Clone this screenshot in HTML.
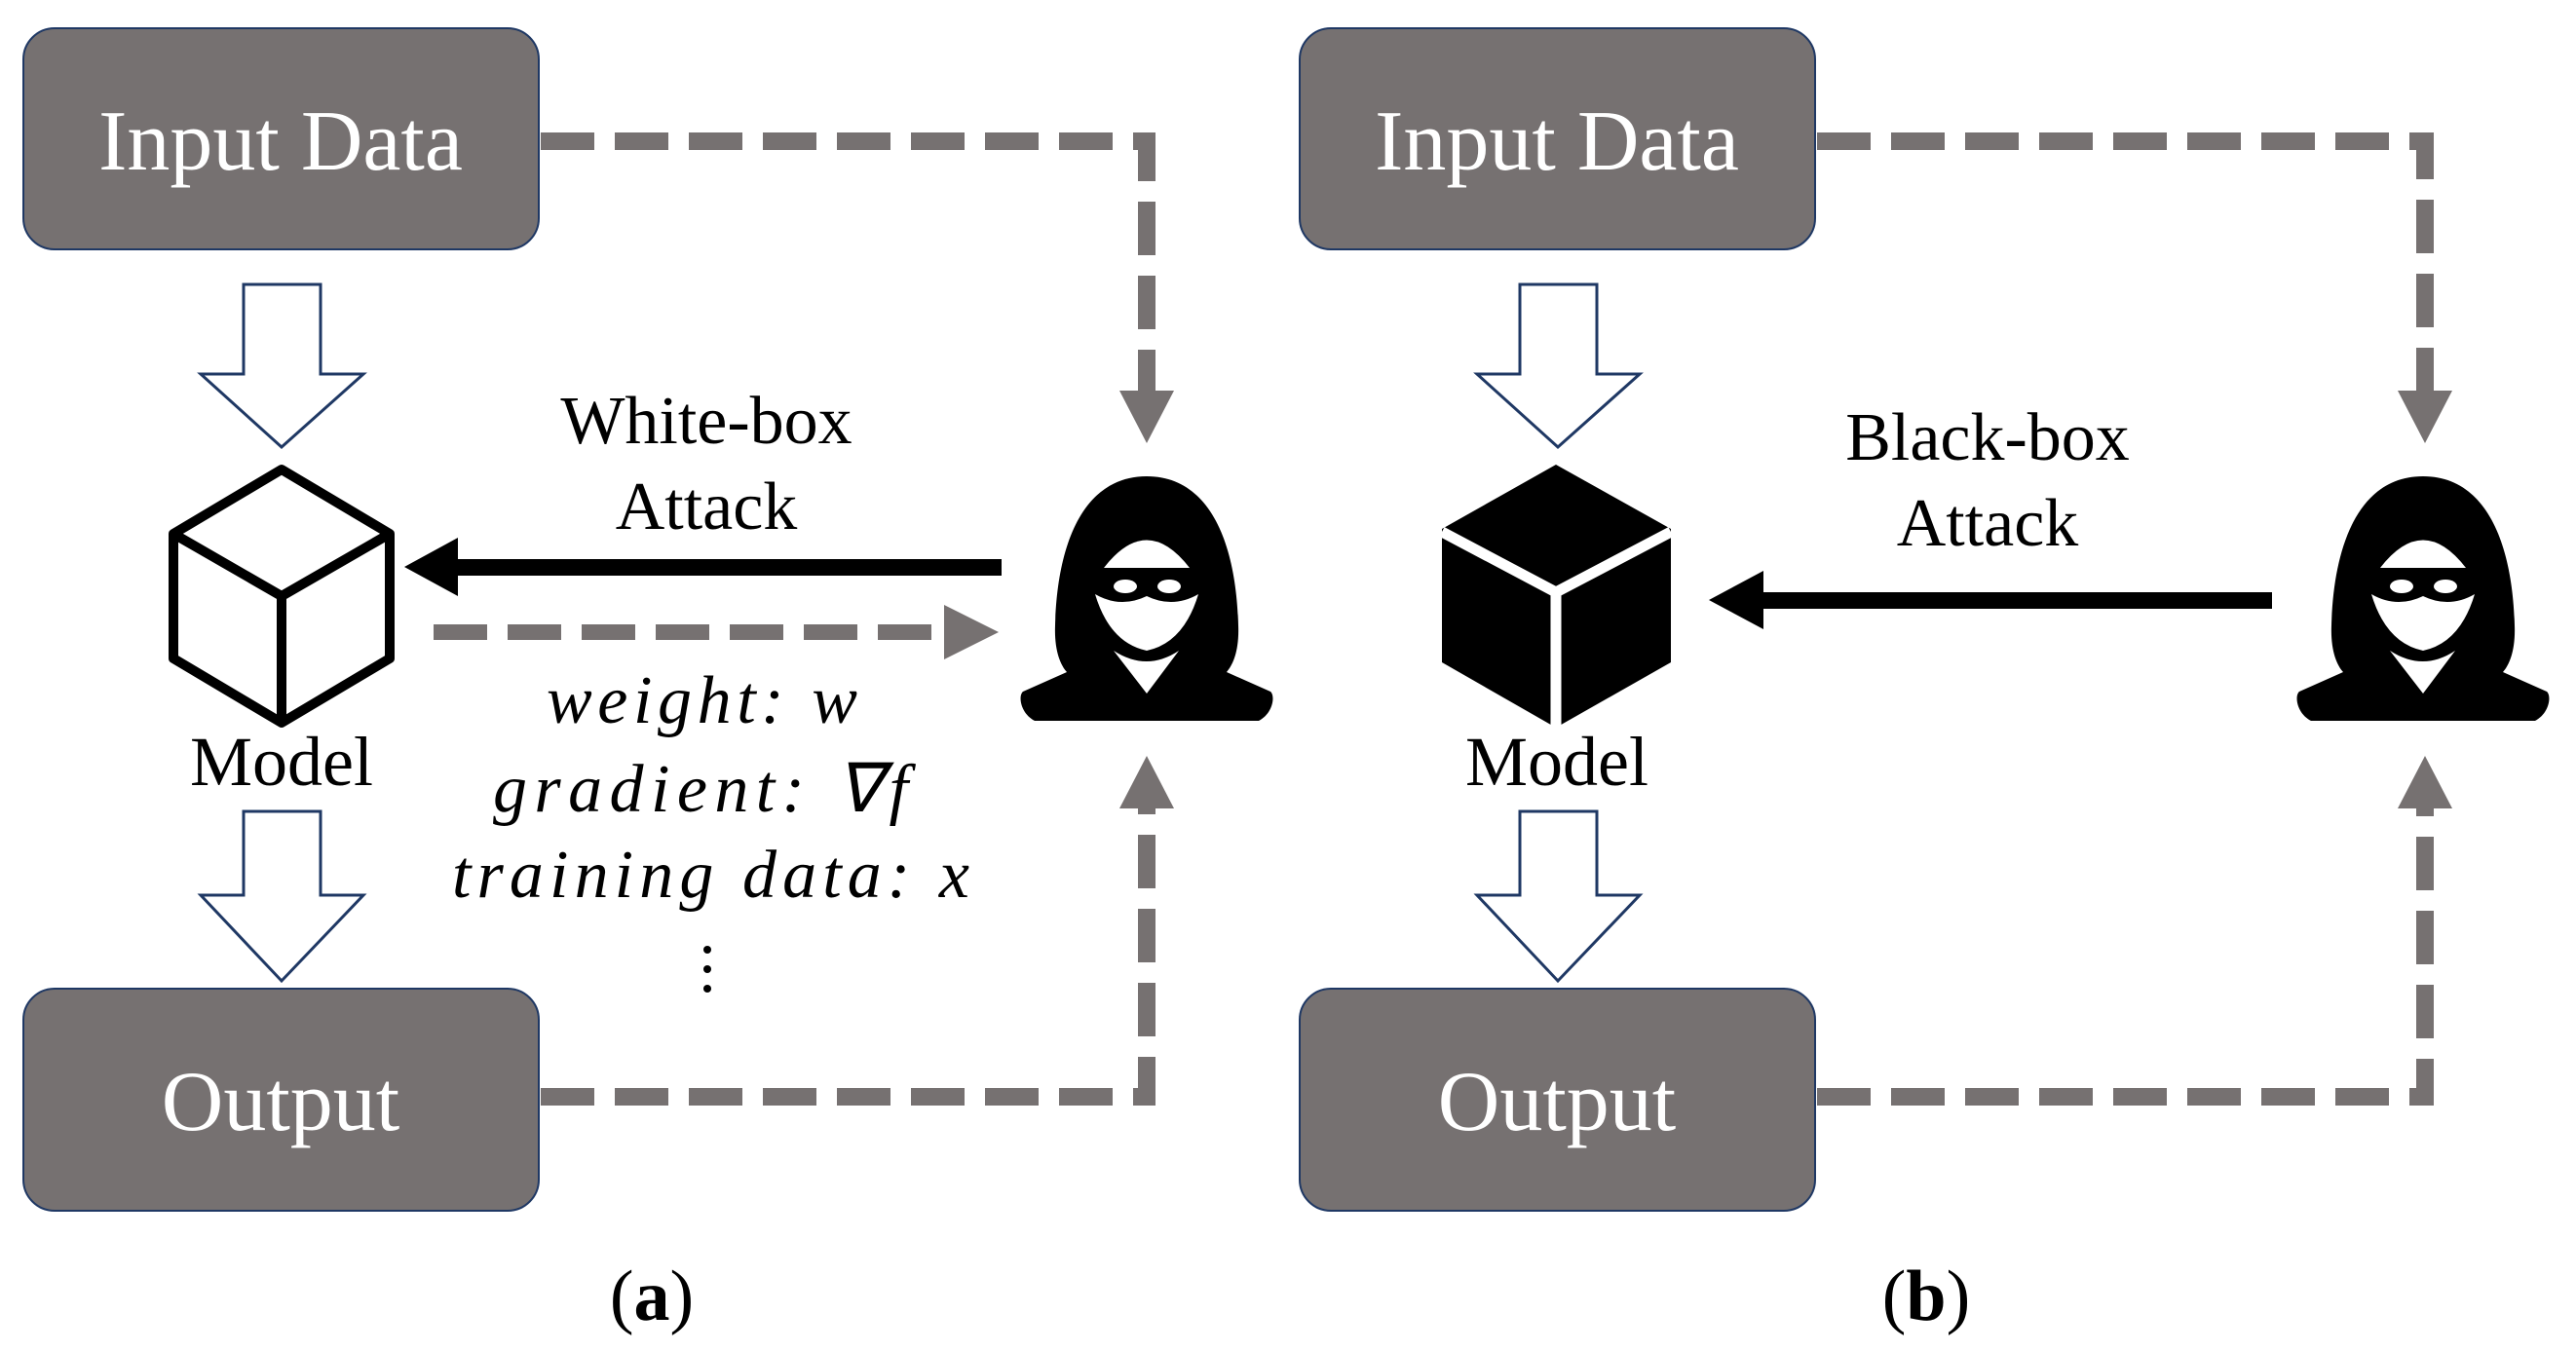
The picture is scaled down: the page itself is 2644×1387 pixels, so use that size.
<!DOCTYPE html>
<html><head><meta charset="utf-8"><style>
html,body{margin:0;padding:0;background:#fff;}
svg{display:block;}
text{font-family:"Liberation Serif",serif;}
</style></head><body>
<svg width="2644" height="1387" viewBox="0 0 2644 1387" xmlns="http://www.w3.org/2000/svg">
<defs>
<g id="hacker">
  <path d="M1177,489 C1110,489 1085,562 1083,642 C1082,667 1088,682 1095,690 L1050,710 C1045,714 1047,732 1062,740 L1292,740 C1307,732 1309,714 1304,710 L1259,690 C1266,682 1272,667 1271,642 C1269,562 1244,489 1177,489 Z" fill="#000"/>
  <path d="M1133,583 Q1177,526 1221,583 Z" fill="#fff"/>
  <path d="M1124,610 Q1150,625 1177,612 Q1204,625 1230,610 Q1215,660 1177,668 Q1139,660 1124,610 Z" fill="#fff"/>
  <ellipse cx="1155" cy="602" rx="12" ry="7" fill="#fff"/>
  <ellipse cx="1200" cy="602" rx="12" ry="7" fill="#fff"/>
  <path d="M1143,668 Q1177,690 1210,668 L1177,712 Z" fill="#fff"/>
</g>
</defs>

<!-- Panel A -->
<rect x="24" y="29" width="529" height="227" rx="32" fill="#767171" stroke="#1f3864" stroke-width="2"/>
<text x="288" y="174" font-size="88" fill="#fff" text-anchor="middle">Input Data</text>
<rect x="24" y="1015" width="529" height="228" rx="32" fill="#767171" stroke="#1f3864" stroke-width="2"/>
<text x="288" y="1160" font-size="88" fill="#fff" text-anchor="middle">Output</text>

<path d="M555,145 H1177 V401" fill="none" stroke="#767171" stroke-width="18" stroke-dasharray="55 21"/>
<polygon points="1149,401 1205,401 1177,455" fill="#767171"/>
<path d="M555,1126 H1177 V830" fill="none" stroke="#767171" stroke-width="18" stroke-dasharray="55 21"/>
<polygon points="1149,830 1205,830 1177,776" fill="#767171"/>

<polygon points="250,292 329,292 329,384 373,384 289,459 206,384 250,384" fill="#fff" stroke="#1f3864" stroke-width="3"/>
<polygon points="250,833 329,833 329,919 373,919 289,1007 206,919 250,919" fill="#fff" stroke="#1f3864" stroke-width="3"/>

<g fill="none" stroke="#000" stroke-width="10" stroke-linejoin="round">
<polygon points="289,482 400,548 400,676 289,742 178,676 178,548"/>
<polyline points="178,548 289,612 400,548"/>
<line x1="289" y1="612" x2="289" y2="742"/>
</g>
<text x="289" y="806" font-size="72" text-anchor="middle">Model</text>

<text x="725" y="455" font-size="70" text-anchor="middle">White-box</text>
<text x="725" y="543" font-size="70" text-anchor="middle">Attack</text>
<rect x="465" y="574" width="563" height="17" fill="#000"/>
<polygon points="415,582 470,552 470,612" fill="#000"/>
<line x1="445" y1="649" x2="969" y2="649" stroke="#767171" stroke-width="16" stroke-dasharray="55 21"/>
<polygon points="969,621 1025,649 969,677" fill="#767171"/>

<g font-style="italic" font-size="70">
<text x="561" y="742" textLength="319" lengthAdjust="spacing">weight: w</text>
<text x="506" y="833" textLength="426" lengthAdjust="spacing">gradient: ∇f</text>
<text x="464" y="921" textLength="531" lengthAdjust="spacing">training data: x</text>
</g>
<circle cx="726" cy="975" r="4" fill="#000"/>
<circle cx="726" cy="995" r="4" fill="#000"/>
<circle cx="726" cy="1015" r="4" fill="#000"/>

<use href="#hacker"/>
<text x="669" y="1355" font-size="74" text-anchor="middle">(<tspan font-weight="bold">a</tspan>)</text>

<!-- Panel B -->
<rect x="1334" y="29" width="529" height="227" rx="32" fill="#767171" stroke="#1f3864" stroke-width="2"/>
<text x="1598" y="174" font-size="88" fill="#fff" text-anchor="middle">Input Data</text>
<rect x="1334" y="1015" width="529" height="228" rx="32" fill="#767171" stroke="#1f3864" stroke-width="2"/>
<text x="1598" y="1160" font-size="88" fill="#fff" text-anchor="middle">Output</text>

<path d="M1865,145 H2489 V401" fill="none" stroke="#767171" stroke-width="18" stroke-dasharray="55 21"/>
<polygon points="2461,401 2517,401 2489,455" fill="#767171"/>
<path d="M1865,1126 H2489 V830" fill="none" stroke="#767171" stroke-width="18" stroke-dasharray="55 21"/>
<polygon points="2461,830 2517,830 2489,776" fill="#767171"/>

<polygon points="1560,292 1639,292 1639,384 1683,384 1599,459 1516,384 1560,384" fill="#fff" stroke="#1f3864" stroke-width="3"/>
<polygon points="1560,833 1639,833 1639,919 1683,919 1599,1007 1516,919 1560,919" fill="#fff" stroke="#1f3864" stroke-width="3"/>

<polygon points="1597,477 1715,543 1715,680 1597,747 1480,680 1480,543" fill="#000"/>
<polyline points="1480,546 1597,608 1715,546" fill="none" stroke="#fff" stroke-width="11"/>
<line x1="1597" y1="608" x2="1597" y2="750" stroke="#fff" stroke-width="11"/>
<text x="1598" y="806" font-size="72" text-anchor="middle">Model</text>

<text x="2040" y="472" font-size="70" text-anchor="middle">Black-box</text>
<text x="2040" y="560" font-size="70" text-anchor="middle">Attack</text>
<rect x="1805" y="608" width="527" height="17" fill="#000"/>
<polygon points="1754,616 1810,586 1810,646" fill="#000"/>

<use href="#hacker" transform="translate(1310,0)"/>
<text x="1977" y="1355" font-size="74" text-anchor="middle">(<tspan font-weight="bold">b</tspan>)</text>
</svg>
</body></html>
